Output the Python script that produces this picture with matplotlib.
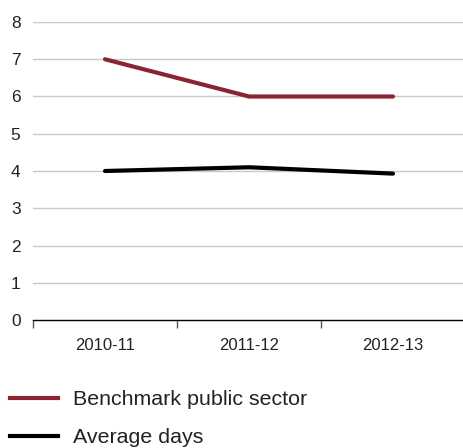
import matplotlib
matplotlib.use("Agg")
import matplotlib.pyplot as plt
from matplotlib.lines import Line2D

plt.rcParams['font.family'] = ['Liberation Sans', 'DejaVu Sans']

years = ["2010-11", "2011-12", "2012-13"]
benchmark = [7.0, 6.0, 6.0]
average_days = [4.0, 4.1, 3.93]
y_ticks = [0, 1, 2, 3, 4, 5, 6, 7, 8]

red = "#8b2332"
grid_col = "#c9c9c9"
text_col = "#222222"

W, H = 463, 448
fig = plt.figure(figsize=(W / 100, H / 100), dpi=100)
ax = fig.add_axes([33 / W, (H - 320) / H, (465 - 33) / W, (320 - 22) / H])

x = list(range(len(years)))
ax.plot(x, benchmark, color=red, lw=3.0, solid_capstyle='round', zorder=3)
ax.plot(x, average_days, color="black", lw=3.0, solid_capstyle='round', zorder=3)

ax.set_ylim(0, 8)
ax.set_xlim(-0.5, len(years) - 0.5)
ax.set_yticks(y_ticks)
ax.set_yticklabels([str(v) for v in y_ticks], fontsize=12.5, color=text_col)
for v in y_ticks[1:]:
    ax.axhline(v, color=grid_col, lw=1.0, zorder=1)

# category boundaries carry the tick marks, labels sit in the middle of each band
ax.set_xticks([i - 0.5 for i in range(len(years) + 1)])
ax.set_xticklabels([])
ax.set_xticks(x, minor=True)
ax.set_xticklabels(years, minor=True, fontsize=12, color=text_col)
ax.tick_params(axis='x', which='major', length=6, width=1, color='#555555', direction='out')
ax.tick_params(axis='x', which='minor', length=0, pad=13)
ax.tick_params(axis='y', length=0, pad=9)

for s in ['top', 'right', 'left']:
    ax.spines[s].set_visible(False)
ax.spines['bottom'].set_linewidth(1.0)
ax.spines['bottom'].set_color('black')

handles = [Line2D([], [], color=red, lw=3.0),
           Line2D([], [], color='black', lw=3.0)]
labels = ["Benchmark public sector", "Average days"]
fig.legend(handles, labels, loc='upper left', bbox_to_anchor=(10 / W, (H - 390) / H),
           frameon=False, fontsize=15.4, handlelength=2.25, handletextpad=0.7,
           labelspacing=0.9, borderaxespad=0.0, borderpad=0.0, labelcolor=text_col)

fig.savefig("out.png", dpi=100)
